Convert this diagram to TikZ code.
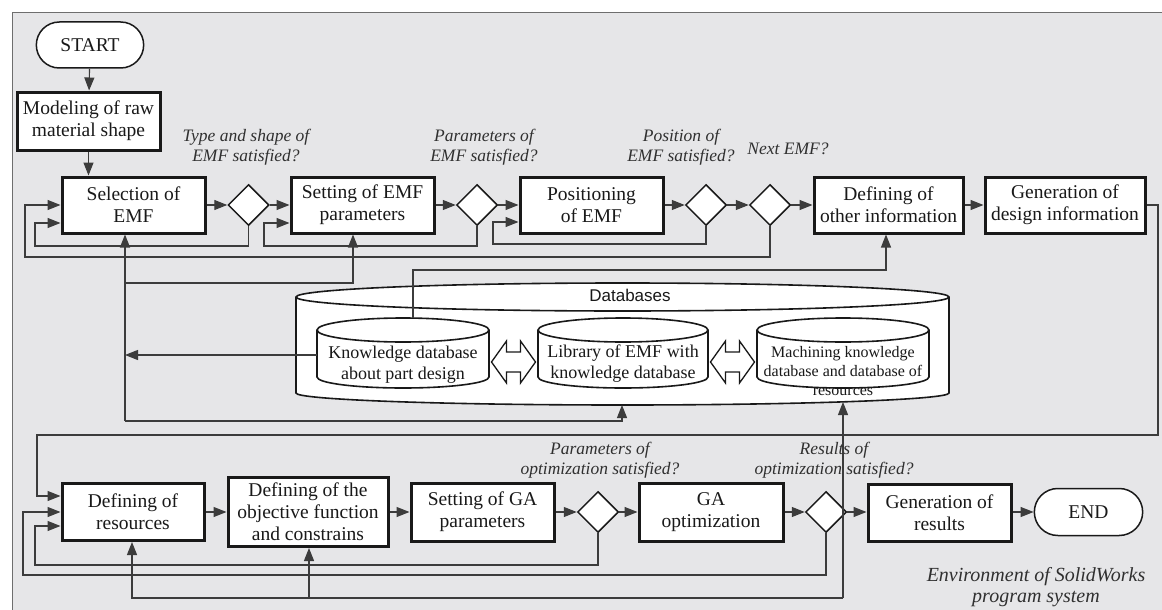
\documentclass[tikz,border=0pt]{standalone}
\usepackage{fontspec}
\setmainfont{Liberation Serif}
\setsansfont{Liberation Sans}
\usetikzlibrary{shapes.geometric,shapes.misc,arrows.meta}
\definecolor{bgc}{RGB}{230,230,232}
\definecolor{ink}{RGB}{25,25,25}
\definecolor{wire}{RGB}{60,60,60}
\definecolor{framec}{RGB}{110,110,110}
\newcommand\dbcyl[6]{%
  \path[cylst] (#1-#2,#3) -- (#1-#2,#5) arc[start angle=180,end angle=0,x radius=#2,y radius=#6]
     -- (#1+#2,#3) arc[start angle=0,end angle=-180,x radius=#2,y radius=#4] -- cycle;
  \draw[cylst,fill=none] (#1+#2,#3) arc[start angle=0,end angle=180,x radius=#2,y radius=#4];}
\newcommand\dblarrow[2]{%
  \draw[dbarr] (#1-22,#2) -- (#1-7,#2-21) -- (#1-7,#2-10) -- (#1+7,#2-10) -- (#1+7,#2-21)
   -- (#1+22,#2) -- (#1+7,#2+21) -- (#1+7,#2+10) -- (#1-7,#2+10) -- (#1-7,#2+21) -- cycle;}
\begin{document}
\begin{tikzpicture}[x=1pt,y=-1pt,
  box/.style={draw=ink, line width=3pt, fill=white, align=center, inner sep=2pt,
    font=\fontsize{19.5}{22}\selectfont, text=ink},
  wA/.style={minimum width=143pt, minimum height=56pt},
  dia/.style={diamond, draw=ink, line width=1.5pt, fill=white, minimum width=41pt,
    minimum height=41pt, inner sep=0pt},
  term/.style={rounded rectangle, draw=ink, line width=1.5pt, fill=white,
    minimum width=114pt, minimum height=46pt, font=\fontsize{19.5}{22}\selectfont, text=ink},
  lab/.style={align=center, font=\itshape\fontsize{17.5}{20}\selectfont, text=ink!90},
  dbt/.style={align=center, font=\fontsize{18}{21}\selectfont, text=ink, inner sep=0pt},
  dbt2/.style={align=center, font=\fontsize{16}{19}\selectfont, text=ink, inner sep=0pt},
  cylst/.style={draw=ink, line width=1.6pt, fill=white},
  dbarr/.style={draw=ink, line width=1.3pt, fill=white, line join=miter},
  conn/.style={draw=wire, line width=1.1pt},
  arr/.style={conn, -{Triangle[length=13pt,width=10pt]}}
]
\useasboundingbox (0,0) rectangle (1162,610);
\fill[bgc] (12,13) rectangle (1162,610);
\draw[framec, line width=1pt] (12,610) -- (12,13) -- (1162,13);

% ---- databases
\dbcyl{622.5}{326.5}{297}{14}{393}{12}
\node[font=\sffamily\fontsize{17}{20}\selectfont, text=ink] (dbtitle) at (630,295) {Databases};
\dbcyl{403}{86}{330}{12}{377}{11}
\dbcyl{623}{85}{330}{12}{377}{11}
\dbcyl{843}{86}{330}{12}{377}{11}
\node[dbt, minimum width=172pt] (kdb) at (403,365) {Knowledge database\\about part design};
\node[dbt, minimum width=170pt] (lib) at (623,364) {Library of EMF with\\knowledge database};
\node[dbt2, minimum width=172pt] (mach) at (843,371) {Machining knowledge\\database and database of\\resources};
\dblarrow{513.5}{362}
\dblarrow{732.5}{362}
\coordinate (kdbtop) at (413,318);
\coordinate (dbL) at (622,405);
\coordinate (dbM) at (843,402);

% ---- top row
\node[term] (start) at (90,45) {START};
\node[box, minimum width=143pt, minimum height=58pt] (model) at (88.5,121) {Modeling of raw\\material shape};
\node[box, wA] (sel) at (133.5,205) {Selection of\\EMF};
\node[dia] (d1) at (248.5,205) {};
\node[box, wA] (set) at (362.5,205) {Setting of EMF\\parameters};
\node[dia] (d2) at (477,205) {};
\node[box, wA] (pos) at (591.5,205) {Positioning\\of EMF};
\node[dia] (d3) at (706,205) {};
\node[dia] (d4) at (770,205) {};
\node[box, minimum width=149pt, minimum height=56pt] (other) at (888.5,205) {Defining of\\other information};
\node[box, minimum width=160pt, minimum height=56pt] (gen) at (1065,205) {Generation of\\design information};

\node[lab] (l1) at (246,147) {Type and shape of\\EMF satisfied?};
\node[lab] (l2) at (484,147) {Parameters of\\EMF satisfied?};
\node[lab] (l3) at (681,147) {Position of\\EMF satisfied?};
\node[lab] (l4) at (788,149) {Next EMF?};

% ---- bottom row
\node[box, minimum width=142pt, minimum height=57pt] (res) at (133,512) {Defining of\\resources};
\node[box, minimum width=160pt, minimum height=69pt] (obj) at (308,512) {Defining of the\\objective function\\and constrains};
\node[box, minimum width=143pt, minimum height=58pt] (gap) at (482.5,512) {Setting of GA\\parameters};
\node[dia] (d5) at (598,512) {};
\node[box, minimum width=144pt, minimum height=58pt] (gao) at (711,512) {GA\\optimization};
\node[dia] (d6) at (826,512) {};
\node[box, minimum width=143pt, minimum height=57pt] (gres) at (939.5,513) {Generation of\\results};
\node[term, minimum width=115pt, minimum height=47pt] (end) at (1088.5,512) {END};

% ---- connectors top
\draw[arr] (start) -- (model);
\draw[arr] (model.south) -- (model.south |- sel.north);
\draw[arr] (sel) -- (d1);
\draw[arr] (d1) -- (set);
\draw[arr] (set) -- (d2);
\draw[arr] (d2) -- (pos);
\draw[arr] (pos) -- (d3);
\draw[arr] (d3) -- (d4);
\draw[arr] (d4) -- (other);
\draw[arr] (other) -- (gen);
\draw[arr] (d1.south) |- (35,246) |- (sel.west |- 0,223);
\draw[arr] (d4.south) |- (25,257) |- (sel.west);
\draw[arr] (d2.south) |- (264,246) |- (set.west |- 0,223);
\draw[arr] (d3.south) |- (493,244) |- (pos.west |- 0,222);

% ---- database links
\draw[arr] (kdbtop) |- (886,270) -- (886,0 |- other.south);
\coordinate (j1) at (125,421);
\draw[arr] (j1) -- (j1 |- sel.south);
\draw[arr] (125,283) -| (353,0 |- set.south);
\draw[arr] (j1) -| (dbL);
\draw[arr] (kdb.west |- 0,355) -- (125,355);
\coordinate (m0) at (843,598);
\draw[arr] (m0) -- (dbM);
\draw[arr] (m0) -| (132,0 |- res.south);
\draw[arr] (309,598) -- (309,0 |- obj.south);
\draw[arr] (gen.east) -| (1158,435) -| (37,496) -- (res.west |- 0,496);

% ---- connectors bottom
\draw[arr] (res) -- (obj);
\draw[arr] (obj) -- (gap);
\draw[arr] (gap) -- (d5);
\draw[arr] (d5) -- (gao);
\draw[arr] (gao) -- (d6);
\draw[arr] (d6) -- (gres.west |- d6);
\draw[arr] (gres.east |- end) -- (end);
\draw[arr] (d5.south) |- (35,565) |- (res.west |- 0,526);
\draw[arr] (d6.south) |- (23,575) |- (res.west);

\node[lab] (l5) at (600,460) {Parameters of\\optimization satisfied?};
\node[lab] (l6) at (834,460) {Results of\\optimization satisfied?};
\node[lab, font=\itshape\fontsize{20}{21}\selectfont] (env) at (1036,587) {Environment of SolidWorks\\program system};
\end{tikzpicture}
\end{document}
